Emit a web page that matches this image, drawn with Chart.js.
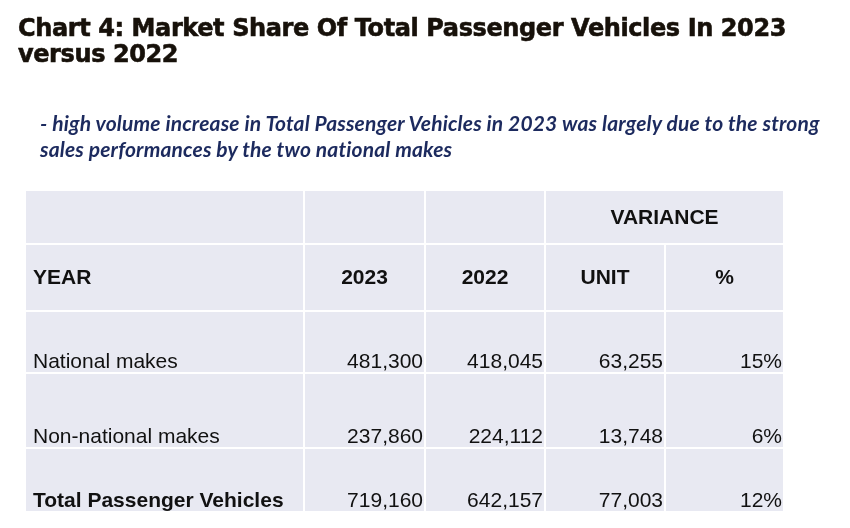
<!DOCTYPE html>
<html>
<head>
<meta charset="utf-8">
<script src="https://cdn.jsdelivr.net/npm/chart.js@4.4.1/dist/chart.umd.min.js"></script>
<style>
    html, body { margin: 0; padding: 0; background: #fff; }
    #wrap { position: relative; width: 850px; height: 528px; overflow: hidden; }
    #chart { position: absolute; left: 0; top: 0; }
    h1 {
        position: absolute; left: 18px; top: 15px; margin: 0; white-space: nowrap;
        font-family: "DejaVu Sans", sans-serif; font-weight: bold;
        font-size: 24px; line-height: 26px; color: #17110a;
        letter-spacing: -0.4px;
        -webkit-text-stroke: 0.6px #17110a;
    }
    p.note {
        position: absolute; left: 40px; top: 110px; margin: 0; white-space: nowrap;
        font-family: Lato, sans-serif; font-style: italic; font-weight: bold;
        font-size: 21px; line-height: 26px; color: #1c2a5e;
        letter-spacing: 0.15px;
    }
</style>
</head>
<body>
<div id="wrap">
    <canvas id="chart" width="850" height="528"></canvas>
    <h1>Chart 4: Market Share Of Total Passenger Vehicles In 2023<br>versus 2022</h1>
    <p class="note">- high volume increase in Total Passenger Vehicles in 2023 was largely due to the strong<br>sales performances by the two national makes</p>
</div>
<script>
// table data
var headerRow = ['YEAR', '2023', '2022', 'UNIT', '%'];
var groupHeader = 'VARIANCE';
var rowLabels = ['National makes', 'Non-national makes', 'Total Passenger Vehicles'];
var values2023 = [481300, 237860, 719160];
var values2022 = [418045, 224112, 642157];
var varianceUnit = [63255, 13748, 77003];
var variancePct = [15, 6, 12];

// layout (table units = pixels inside the chart area)
var colEdges = [0, 279, 400, 520, 640, 759];
var rowEdges = [0, 54, 121, 183, 258, 322];

var cellColor = '#e8e9f2';
var textColor = '#111111';

function fmt(n) {
    return n.toLocaleString('en-US');
}

var tablePlugin = {
    id: 'tablePlugin',
    afterDraw: function (chart) {
        var ctx = chart.ctx;
        var xs = chart.scales.x;
        var ys = chart.scales.y;
        var px = function (v) { return xs.getPixelForValue(v); };
        var py = function (v) { return ys.getPixelForValue(v); };

        ctx.save();

        // cells
        function cell(c0, c1, r) {
            var x0 = px(colEdges[c0]), x1 = px(colEdges[c1]);
            var y0 = py(rowEdges[r]), y1 = py(rowEdges[r + 1]);
            ctx.fillStyle = cellColor;
            ctx.fillRect(x0 + 1, y0 + 1, x1 - x0 - 2, y1 - y0 - 2);
        }
        cell(0, 1, 0); cell(1, 2, 0); cell(2, 3, 0); cell(3, 5, 0);
        for (var r = 1; r < rowEdges.length - 1; r++) {
            for (var c = 0; c < colEdges.length - 1; c++) cell(c, c + 1, r);
        }

        ctx.fillStyle = textColor;

        // group header
        ctx.font = 'bold 21px "Liberation Sans", Arial, sans-serif';
        ctx.textAlign = 'center';
        ctx.textBaseline = 'middle';
        ctx.fillText(groupHeader, px((colEdges[3] + colEdges[5]) / 2), py((rowEdges[0] + rowEdges[1]) / 2) + 1);

        // column headers
        var hy = py((rowEdges[1] + rowEdges[2]) / 2) + 1;
        headerRow.forEach(function (h, i) {
            if (i === 0) {
                ctx.textAlign = 'left';
                ctx.fillText(h, px(colEdges[0]) + 8, hy);
            } else {
                ctx.textAlign = 'center';
                ctx.fillText(h, px((colEdges[i] + colEdges[i + 1]) / 2), hy);
            }
        });

        // body rows, bottom aligned
        ctx.textBaseline = 'alphabetic';
        rowLabels.forEach(function (label, i) {
            var bold = i === rowLabels.length - 1;
            var by = py(rowEdges[i + 3]) - 5;
            ctx.font = (bold ? 'bold ' : '') + '21px "Liberation Sans", Arial, sans-serif';
            ctx.textAlign = 'left';
            ctx.fillText(label, px(colEdges[0]) + 8, by);
            ctx.font = '21px "Liberation Sans", Arial, sans-serif';
            ctx.textAlign = 'right';
            var cells = [fmt(values2023[i]), fmt(values2022[i]), fmt(varianceUnit[i]), variancePct[i] + '%'];
            cells.forEach(function (t, j) {
                ctx.fillText(t, px(colEdges[j + 2]) - 2, by);
            });
        });

        ctx.restore();
    }
};

var ctx = document.getElementById('chart').getContext('2d');
var table = new Chart(ctx, {
    type: 'scatter',
    data: { datasets: [] },
    options: {
        responsive: false,
        animation: false,
        layout: { padding: { left: 25, top: 190, right: 66, bottom: 16 } },
        plugins: { legend: { display: false }, tooltip: { enabled: false } },
        scales: {
            x: { type: 'linear', min: colEdges[0], max: colEdges[colEdges.length - 1], display: false },
            y: { type: 'linear', min: rowEdges[0], max: rowEdges[rowEdges.length - 1], reverse: true, display: false }
        }
    },
    plugins: [tablePlugin]
});
</script>
</body>
</html>
